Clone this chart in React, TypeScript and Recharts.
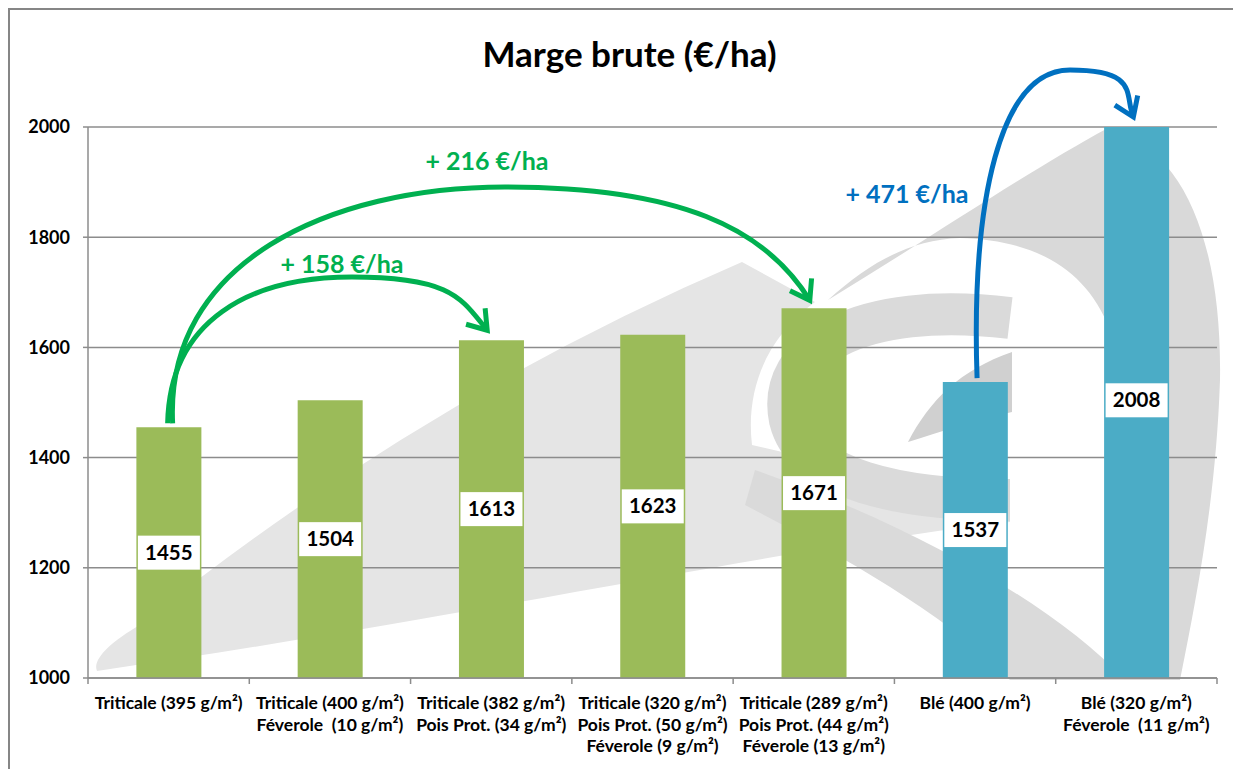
import { BarChart, Bar, XAxis, YAxis, CartesianGrid, Cell, LabelList } from 'recharts';

const categories = [
  ['Triticale (395 g/m²)'],
  ['Triticale (400 g/m²)', 'Féverole  (10 g/m²)'],
  ['Triticale (382 g/m²)', 'Pois Prot. (34 g/m²)'],
  ['Triticale (320 g/m²)', 'Pois Prot. (50 g/m²)', 'Féverole (9 g/m²)'],
  ['Triticale (289 g/m²)', 'Pois Prot. (44 g/m²)', 'Féverole (13 g/m²)'],
  ['Blé (400 g/m²)'],
  ['Blé (320 g/m²)', 'Féverole  (11 g/m²)'],
];
const margeBrute = [1455, 1504, 1613, 1623, 1671, 1537, 2008];
const crops = ['triticale', 'triticale', 'triticale', 'triticale', 'triticale', 'ble', 'ble'];
const yTicks = [1000, 1200, 1400, 1600, 1800, 2000];
const gains = [
  { from: 0, to: 2, label: '+ 158 €/ha' },
  { from: 0, to: 4, label: '+ 216 €/ha' },
  { from: 5, to: 6, label: '+ 471 €/ha' },
];

const data = categories.map((lines, i) => ({ key: lines.join('\n'), value: margeBrute[i], crop: crops[i] }));

const CROP_COLORS: Record<string, string> = { triticale: '#9BBB59', ble: '#4BACC6' };
const FONT = 'Lato, "Open Sans", sans-serif';
const GRID = '#8c8c8c';

// layout (page coordinates) of the plot area
const W = 1231;
const H = 759;
const PLOT_L = 88;
const PLOT_R = 1217;
const PLOT_T = 127;
const PLOT_B = 678;
const BAND = (PLOT_R - PLOT_L) / categories.length;
const xc = (i: number) => PLOT_L + (i + 0.5) * BAND;
const yv = (v: number) => PLOT_T + ((2000 - Math.min(v, 2000)) / 1000) * (PLOT_B - PLOT_T);

function CategoryTick(props: any) {
  const { x, payload, index } = props;
  const lines = String(payload.value).split('\n');
  const axisY = PLOT_B - 10;
  const left = x - BAND / 2;
  return (
    <g>
      <line x1={left} x2={left} y1={axisY} y2={axisY + 6} stroke={GRID} strokeWidth={1.5} />
      {index === categories.length - 1 && (
        <line x1={x + BAND / 2} x2={x + BAND / 2} y1={axisY} y2={axisY + 6} stroke={GRID} strokeWidth={1.5} />
      )}
      <text textAnchor="middle" fontFamily={FONT} fontWeight={700} fontSize={17.5} fill="#000" style={{ whiteSpace: 'pre' }}>
        {lines.map((l, k) => (
          <tspan key={k} x={x} y={axisY + 31 + k * 21.5}>{l}</tspan>
        ))}
      </text>
    </g>
  );
}

function ValueBox(props: any) {
  const { x, y, width, height, value } = props;
  const cx = x + width / 2;
  const cy = y + height / 2;
  return (
    <g>
      <rect x={cx - 31} y={cy - 17} width={62} height={34} fill="#fff" />
      <text x={cx} y={cy + 7} textAnchor="middle" fontFamily={FONT} fontWeight={700} fontSize={20.5} fill="#000">
        {value}
      </text>
    </g>
  );
}

function arrowHead(tx: number, ty: number, fx: number, fy: number, color: string) {
  const a = Math.atan2(ty - fy, tx - fx);
  const len = 22;
  const spread = 0.6;
  const p1 = [tx - len * Math.cos(a - spread), ty - len * Math.sin(a - spread)];
  const p2 = [tx - len * Math.cos(a + spread), ty - len * Math.sin(a + spread)];
  return (
    <path d={`M${p1[0]},${p1[1]} L${tx},${ty} L${p2[0]},${p2[1]}`} fill="none" stroke={color} strokeWidth={5} strokeLinejoin="miter" />
  );
}

function Annotations() {
  const green = '#00B050';
  const blue = '#0070C0';
  const [g1, g2, b1] = gains;

  const s1x = xc(g1.from) - 1;
  const s1y = yv(margeBrute[g1.from]) - 4;
  const e1x = xc(g1.to) - 4;
  const e1y = yv(margeBrute[g1.to]) - 10;

  const s2x = xc(g2.from) + 4;
  const s2y = s1y;
  const e2x = xc(g2.to) - 4;
  const e2y = yv(margeBrute[g2.to]) - 8;

  const s3x = xc(b1.from) + 2;
  const s3y = yv(margeBrute[b1.from]) - 4;
  const e3x = xc(b1.to) - 3;
  const e3y = yv(margeBrute[b1.to]) - 10;

  return (
    <svg width={1241} height={769} style={{ position: 'absolute', left: -10, top: -10, pointerEvents: 'none' }}>
      <path d={`M${s1x},${s1y} C${s1x + 2},320 250,277 352,277 S462,300 ${e1x},${e1y}`} fill="none" stroke={green} strokeWidth={5} />
      {arrowHead(e1x, e1y, 462, 300, green)}
      <path d={`M${s2x},${s2y} C${s2x - 8},262 330,187 505,187 S765,228 ${e2x},${e2y}`} fill="none" stroke={green} strokeWidth={5} />
      {arrowHead(e2x, e2y, 780, 248, green)}
      <path d={`M${s3x},${s3y} C${s3x - 6},200 1000,70 1070,70 S1124,95 ${e3x},${e3y}`} fill="none" stroke={blue} strokeWidth={5} />
      {arrowHead(e3x, e3y, 1124, 95, blue)}

      <text x={342} y={273} textAnchor="middle" fontFamily={FONT} fontWeight={700} fontSize={25} fill={green}>{g1.label}</text>
      <text x={487} y={170} textAnchor="middle" fontFamily={FONT} fontWeight={700} fontSize={25} fill={green}>{g2.label}</text>
      <text x={907} y={203} textAnchor="middle" fontFamily={FONT} fontWeight={700} fontSize={25} fill={blue}>{b1.label}</text>
    </svg>
  );
}

function Watermark() {
  return (
    <svg width={1241} height={769} style={{ position: 'absolute', left: -10, top: -10 }}>
      <path
        d="M97,671 C92,660 110,642 140,625 Q420,400 742,262 L815,302 C770,335 745,385 752,445 L1010,505 L1010,522 C800,545 500,612 97,671 Z"
        fill="#e5e5e5"
      />
      <path
        d="M828,300 C930,238 1030,170 1108,128 C1190,150 1222,255 1220,380 C1216,500 1196,600 1180,680 L1122,680 C1134,560 1142,420 1110,330 C1085,265 1030,240 960,238 C910,240 870,262 828,300 Z"
        fill="#d9d9d9"
      />
      <path d="M1010,318 C860,300 775,350 790,420 C805,480 900,500 1010,500" fill="none" stroke="#dadada" strokeWidth={42} />
      <path d="M755,470 C900,520 1050,600 1125,680 L1010,680 C955,622 860,565 745,505 Z" fill="#dadada" />
      <path d="M1012,352 C960,370 930,400 908,442 C940,432 975,420 1012,412 Z" fill="#d0d0d0" />
    </svg>
  );
}

export default function App() {
  return (
    <div
      style={{
        position: 'relative',
        width: 1233,
        height: 761,
        borderTop: '2px solid #868686',
        borderLeft: '2px solid #868686',
        boxSizing: 'border-box',
        background: '#fff',
      }}
    >
      <Watermark />
      <div
        style={{
          position: 'absolute',
          left: 0,
          top: 23,
          width: W,
          textAlign: 'center',
          fontFamily: FONT,
          fontWeight: 700,
          fontSize: 35,
          lineHeight: '40px',
          color: '#000',
          paddingLeft: 4,
        }}
      >
        Marge brute (€/ha)
      </div>
      <div style={{ position: 'absolute', left: 0, top: 0 }}>
        <BarChart
          width={W}
          height={H}
          data={data}
          margin={{ top: PLOT_T - 10, right: 1241 - PLOT_R, bottom: 11, left: 8 }}
          barCategoryGap="30%"
        >
          <CartesianGrid horizontal vertical={false} stroke={GRID} strokeWidth={1.5} />
          <XAxis
            dataKey="key"
            height={80}
            interval={0}
            tickLine={false}
            axisLine={{ stroke: GRID, strokeWidth: 1.5 }}
            tick={<CategoryTick />}
          />
          <YAxis
            width={70}
            domain={[1000, 2000]}
            ticks={yTicks}
            allowDataOverflow
            tickSize={5}
            tickMargin={13}
            axisLine={{ stroke: GRID, strokeWidth: 1.5 }}
            tickLine={{ stroke: GRID, strokeWidth: 1.5 }}
            tick={{ fontFamily: FONT, fontWeight: 700, fontSize: 18, fill: '#000' }}
          />
          <Bar dataKey="value" isAnimationActive={false}>
            {data.map((d, i) => (
              <Cell key={i} fill={CROP_COLORS[d.crop]} />
            ))}
            <LabelList dataKey="value" content={<ValueBox />} />
          </Bar>
        </BarChart>
      </div>
      <Annotations />
    </div>
  );
}
